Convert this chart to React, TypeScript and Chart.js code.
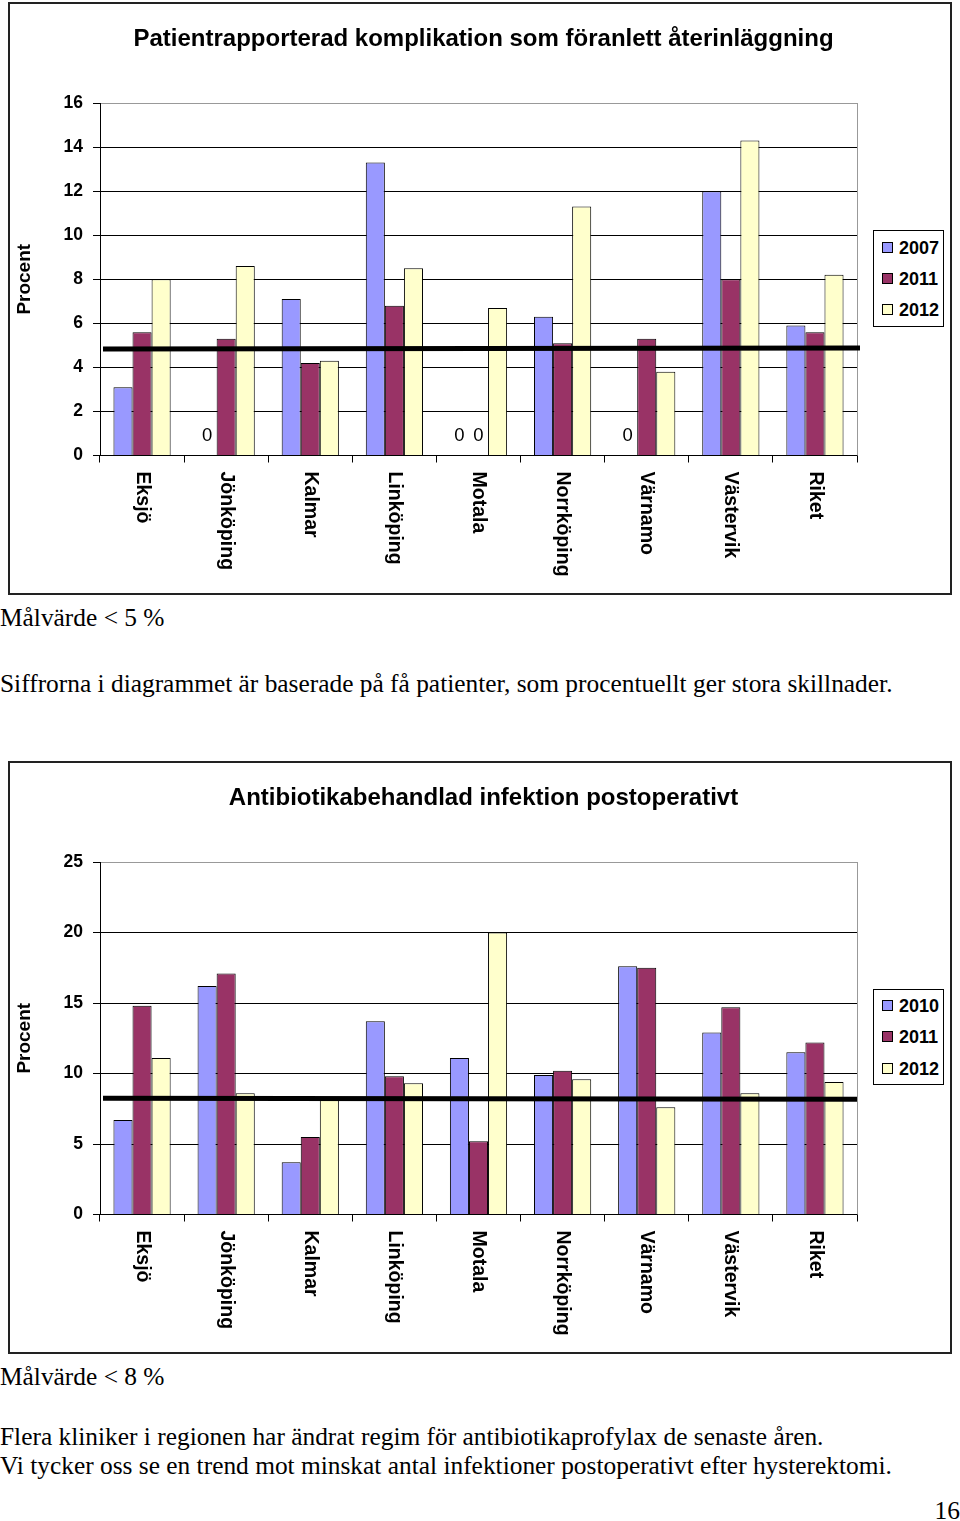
import React, { useEffect, useRef } from "react";
import { Chart, registerables } from "chart.js";
Chart.register(...registerables);

const categories = ["Eksjö", "Jönköping", "Kalmar", "Linköping", "Motala", "Norrköping", "Värnamo", "Västervik", "Riket"];

const chart1Title = "Patientrapporterad komplikation som föranlett återinläggning";
const chart1Years = ["2007", "2011", "2012"];
const chart1_2007 = [3.1, 0, 7.1, 13.3, 0, 6.3, 0, 12.0, 5.9];
const chart1_2011 = [5.6, 5.3, 4.2, 6.8, 0, 5.1, 5.3, 8.0, 5.6];
const chart1_2012 = [8.0, 8.6, 4.3, 8.5, 6.7, 11.3, 3.8, 14.3, 8.2];
const chart1Target = [4.83, 4.88];
const chart1Max = 16;
const chart1Step = 2;

const chart2Title = "Antibiotikabehandlad infektion postoperativt";
const chart2Years = ["2010", "2011", "2012"];
const chart2_2010 = [6.7, 16.2, 3.7, 13.7, 11.1, 9.9, 17.6, 12.9, 11.5];
const chart2_2011 = [14.8, 17.1, 5.5, 9.8, 5.2, 10.2, 17.5, 14.7, 12.2];
const chart2_2012 = [11.1, 8.6, 8.2, 9.3, 20.0, 9.6, 7.6, 8.6, 9.4];
const chart2Target = [8.24, 8.17];
const chart2Max = 25;
const chart2Step = 5;

const colors = ["#9999FF", "#993366", "#FFFFCC"];
const SANS = "'Liberation Sans', Arial, Helvetica, sans-serif";
const SERIF = "'Liberation Serif', 'Times New Roman', serif";

type BoxProps = {
  top: number;
  years: string[];
  series: number[][];
  target: number[];
  max: number;
  step: number;
  lineExtend: number;
};

function ChartBox({ top, years, series, target, max, step, lineExtend }: BoxProps) {
  const ref = useRef<HTMLCanvasElement | null>(null);
  useEffect(() => {
    if (!ref.current) return;
    const overlay = {
      id: "overlay",
      beforeDatasetsDraw(chart: any) {
        const { ctx, chartArea } = chart;
        ctx.save();
        ctx.strokeStyle = "#999";
        ctx.lineWidth = 1;
        ctx.beginPath();
        ctx.moveTo(chartArea.right + 0.5, chartArea.top);
        ctx.lineTo(chartArea.right + 0.5, chartArea.bottom);
        ctx.stroke();
        ctx.restore();
      },
      afterDatasetsDraw(chart: any) {
        const { ctx, chartArea, scales } = chart;
        const y = scales.y;
        const x = scales.x;
        ctx.save();
        // zero labels
        ctx.fillStyle = "#000";
        ctx.font = `18.5px ${SANS}`;
        ctx.textAlign = "center";
        ctx.textBaseline = "middle";
        chart.data.datasets.forEach((ds: any, di: number) => {
          const meta = chart.getDatasetMeta(di);
          ds.data.forEach((v: number, i: number) => {
            if (v === 0) {
              ctx.fillText("0", meta.data[i].x, y.getPixelForValue(0) - 20);
            }
          });
        });
        // target line
        ctx.strokeStyle = "#000";
        ctx.lineWidth = 5;
        ctx.beginPath();
        ctx.moveTo(chartArea.left + 3, y.getPixelForValue(target[0]));
        ctx.lineTo(chartArea.right + lineExtend, y.getPixelForValue(target[1]));
        ctx.stroke();
        // x labels, rotated clockwise
        ctx.font = `bold 19.5px ${SANS}`;
        ctx.textAlign = "left";
        ctx.textBaseline = "middle";
        chart.data.labels.forEach((lab: string, i: number) => {
          ctx.save();
          ctx.translate(x.getPixelForValue(i), chartArea.bottom + 16);
          ctx.rotate(Math.PI / 2);
          ctx.fillText(lab, 0, 0);
          ctx.restore();
        });
        ctx.restore();
      },
    };
    const chart = new Chart(ref.current, {
      type: "bar",
      data: {
        labels: categories,
        datasets: years.map((yr, k) => ({
          label: yr,
          data: series[k],
          backgroundColor: colors[k],
          borderColor: "#000",
          borderWidth: 1,
          categoryPercentage: 0.68,
          barPercentage: 1,
        })),
      },
      options: {
        animation: false,
        responsive: false,
        maintainAspectRatio: false,
        layout: { padding: { top: 99, left: 0, right: 93, bottom: 0 } },
        plugins: {
          legend: { display: false },
          title: { display: false },
          tooltip: { enabled: false },
        },
        scales: {
          x: {
            grid: { drawOnChartArea: false, drawTicks: true, tickLength: 7, tickColor: "#000", offset: true },
            border: { display: true, color: "#000", width: 1 },
            ticks: { display: false },
            afterFit: (s: any) => {
              s.height = 137.5;
            },
          },
          y: {
            min: 0,
            max: max,
            ticks: {
              stepSize: step,
              color: "#000",
              padding: 10,
              font: { family: SANS, size: 17.5, weight: "bold" },
            },
            grid: {
              color: (c: any) => (c.tick && c.tick.value === max ? "#999" : "#000"),
              tickColor: "#000",
              tickLength: 7,
              lineWidth: 1,
            },
            border: { display: true, color: "#000", width: 1 },
            title: {
              display: true,
              text: "Procent",
              color: "#000",
              padding: { top: 3, bottom: 0 },
              font: { family: SANS, size: 19, weight: "bold" },
            },
            afterFit: (s: any) => {
              s.width = 90;
            },
          },
        },
      },
      plugins: [overlay],
    } as any);
    return () => chart.destroy();
  }, []);
  return (
    <div
      style={{
        position: "absolute",
        left: 8,
        top: top,
        width: 944,
        height: 593,
        border: "2px solid #222",
        boxSizing: "border-box",
        background: "#fff",
      }}
    >
      <canvas ref={ref} width={940} height={589} style={{ display: "block", width: 940, height: 589 }} />
    </div>
  );
}

function Legend({ left, top, height, years, rows }: { left: number; top: number; height: number; years: string[]; rows: number[] }) {
  return (
    <div
      style={{
        position: "absolute",
        left,
        top,
        width: 71,
        height,
        border: "1.5px solid #000",
        boxSizing: "border-box",
        background: "#fff",
      }}
    >
      {years.map((yr, k) => (
        <div key={yr} style={{ position: "absolute", left: 0, top: rows[k] - 10, height: 20, width: 70 }}>
          <div
            style={{
              position: "absolute",
              left: 8,
              top: 4,
              width: 11,
              height: 11,
              background: colors[k],
              border: "1px solid #000",
              boxSizing: "border-box",
            }}
          />
          <div
            style={{
              position: "absolute",
              left: 25,
              top: 0,
              lineHeight: "20px",
              font: `bold 18px ${SANS}`,
              color: "#000",
            }}
          >
            {yr}
          </div>
        </div>
      ))}
    </div>
  );
}

const textStyle: React.CSSProperties = {
  position: "absolute",
  left: 0,
  fontFamily: SERIF,
  fontSize: 25.4,
  lineHeight: "29px",
  color: "#000",
  whiteSpace: "nowrap",
};

const titleStyle: React.CSSProperties = {
  position: "absolute",
  left: 0,
  width: 967,
  textAlign: "center",
  fontFamily: SANS,
  fontWeight: "bold",
  fontSize: 24,
  lineHeight: "28px",
  color: "#000",
  whiteSpace: "nowrap",
};

export default function App() {
  return (
    <div style={{ position: "absolute", left: 0, top: 0, width: 960, height: 1521, background: "#fff", overflow: "hidden" }}>
      <ChartBox top={2} years={chart1Years} series={[chart1_2007, chart1_2011, chart1_2012]} target={chart1Target} max={chart1Max} step={chart1Step} lineExtend={3} />
      <div style={{ ...titleStyle, top: 24 }}>{chart1Title}</div>
      <Legend left={873} top={230} height={97} years={chart1Years} rows={[17, 48, 79]} />

      <div style={{ ...textStyle, top: 603 }}>Målvärde &lt; 5 %</div>
      <div style={{ ...textStyle, top: 669 }}>Siffrorna i diagrammet är baserade på få patienter, som procentuellt ger stora skillnader.</div>

      <ChartBox top={761} years={chart2Years} series={[chart2_2010, chart2_2011, chart2_2012]} target={chart2Target} max={chart2Max} step={chart2Step} lineExtend={0} />
      <div style={{ ...titleStyle, top: 783 }}>{chart2Title}</div>
      <Legend left={873} top={989} height={96} years={chart2Years} rows={[16, 47, 79]} />

      <div style={{ ...textStyle, top: 1362 }}>Målvärde &lt; 8 %</div>
      <div style={{ ...textStyle, top: 1422 }}>Flera kliniker i regionen har ändrat regim för antibiotikaprofylax de senaste åren.</div>
      <div style={{ ...textStyle, top: 1451 }}>Vi tycker oss se en trend mot minskat antal infektioner postoperativt efter hysterektomi.</div>
      <div style={{ ...textStyle, left: "auto", right: 0, top: 1496 }}>16</div>
    </div>
  );
}
